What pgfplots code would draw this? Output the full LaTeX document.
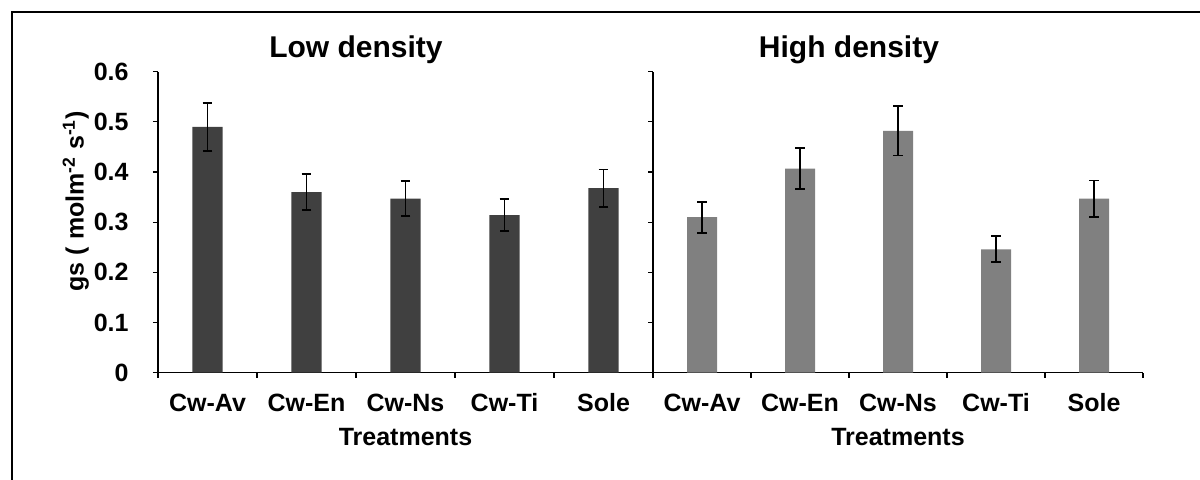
\documentclass[border=0pt]{standalone}
\usepackage{fontspec}
\setmainfont{Liberation Sans}
\usepackage{pgfplots}
\pgfplotsset{compat=1.18}

\definecolor{darkbar}{HTML}{404040}
\definecolor{lightbar}{HTML}{808080}

\pgfplotsset{
  panel/.style={
    scale only axis,
    height=150.5pt,
    ymin=0, ymax=0.6,
    xmin=-0.5, xmax=4.5,
    ytick={0,0.1,0.2,0.3,0.4,0.5,0.6},
    xtick={0,1,2,3,4},
    xticklabels={Cw-Av,Cw-En,Cw-Ns,Cw-Ti,Sole},
    minor xtick={-0.5,0.5,1.5,2.5,3.5,4.5},
    major x tick style={draw=none},
    tick align=outside,
    major tick length=2.5pt,
    minor tick length=2.5pt,
    axis x line*=bottom,
    axis y line*=left,
    axis line style={-, line width=0.7pt},
    tick style={line width=0.6pt, black},
    /pgf/number format/assume math mode=true,
    yticklabel style={font=\bfseries\fontsize{12.5}{14}\selectfont,
      /pgf/number format/fixed, /pgf/number format/precision=1,
      inner sep=0pt, xshift=-12pt},
    xticklabel style={font=\bfseries\fontsize{12.5}{14}\selectfont,
      anchor=base, yshift=-17pt},
    xlabel={\bfseries Treatments},
    xlabel style={font=\bfseries\fontsize{12.5}{14}\selectfont, at={(axis description cs:0.5,-0.214)}, anchor=center},
    title style={font=\bfseries\fontsize{15}{17}\selectfont, at={(axis description cs:0.4,1)}, anchor=base, yshift=1.3pt},
    ybar, bar width=15pt,
    clip=false,
    error bars/y dir=both,
    error bars/y explicit,
    error bars/error bar style={line width=0.9pt, black},
    error bars/error mark options={rotate=90, mark size=2.4pt, line width=0.9pt, black},
  }
}

\begin{document}
\begin{tikzpicture}
\useasboundingbox (0,0) rectangle (600pt,240pt);
\draw[line width=1pt] (5.75pt,-5pt) -- (5.75pt,234pt) -- (610pt,234pt);

\begin{axis}[panel,
  at={(79pt,53.65pt)}, anchor=south west,
  width=247.5pt,
  title={Low density},
  ylabel={gs ( molm\textsuperscript{-2} s\textsuperscript{-1})},
  ylabel style={font=\bfseries\fontsize{12.5}{14}\selectfont, at={(axis description cs:-0.166,0.57)}, anchor=center},
]
\addplot[fill=darkbar, draw=none] coordinates {
  (0,0.490) +- (0,0.048)
  (1,0.360) +- (0,0.036)
  (2,0.347) +- (0,0.035)
  (3,0.314) +- (0,0.032)
  (4,0.368) +- (0,0.037)
};
\end{axis}

\begin{axis}[panel,
  at={(326.5pt,53.65pt)}, anchor=south west,
  width=245pt,
  title={High density},
  yticklabels={},
]
\addplot[fill=lightbar, draw=none] coordinates {
  (0,0.310) +- (0,0.031)
  (1,0.407) +- (0,0.041)
  (2,0.482) +- (0,0.049)
  (3,0.246) +- (0,0.026)
  (4,0.347) +- (0,0.036)
};
\end{axis}
\end{tikzpicture}
\end{document}
